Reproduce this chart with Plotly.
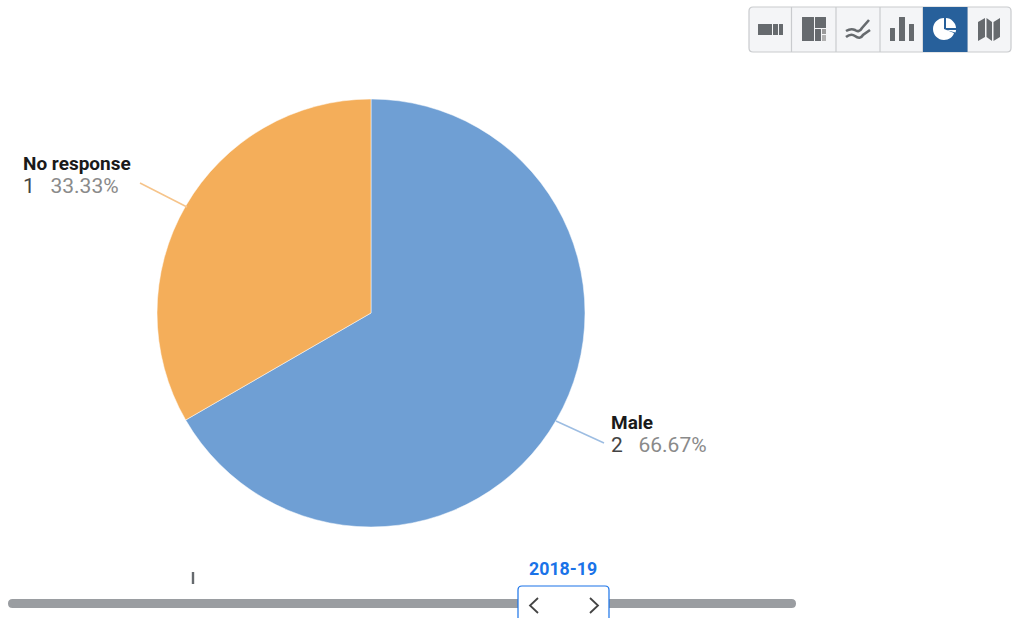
import plotly.graph_objects as go

categories = ["Male", "No response"]
values = [2, 1]
periods = ["I", "2018-19"]

W, H = 1013, 618
FONT = "Roboto"
COL_MALE, COL_NR = "#6f9fd4", "#f4ae5a"
GREY = "#666a6e"


def px(x):
    return x / W


def py(y):
    return 1 - y / H


def pt(x, y):
    return f"{px(x):.5f},{py(y):.5f}"


def path(*cmds):
    out = []
    for c in cmds:
        if c == "Z":
            out.append("Z")
        else:
            out.append(c[0] + " ".join(pt(*q) for q in c[1:]))
    return " ".join(out)


def rrect(x0, y0, x1, y1, r, bottom=True, top=True):
    rt = r if top else 0
    rb = r if bottom else 0
    return path(
        ("M", (x0 + rt, y0)), ("L", (x1 - rt, y0)), ("Q", (x1, y0), (x1, y0 + rt)),
        ("L", (x1, y1 - rb)), ("Q", (x1, y1), (x1 - rb, y1)),
        ("L", (x0 + rb, y1)), ("Q", (x0, y1), (x0, y1 - rb)),
        ("L", (x0, y0 + rt)), ("Q", (x0, y0), (x0 + rt, y0)), "Z",
    )


shapes = []


def fill(p, color, line=None, width=0):
    shapes.append(dict(type="path", xref="paper", yref="paper", path=p, fillcolor=color,
                       line=dict(color=line or color, width=width), layer="above"))


def stroke(p, color, width):
    shapes.append(dict(type="path", xref="paper", yref="paper", path=p,
                       line=dict(color=color, width=width), layer="above"))


def box(x0, y0, x1, y1, color=GREY):
    fill(rrect(x0, y0, x1, y1, 0.3), color)


total = sum(values)
fig = go.Figure(go.Pie(
    labels=categories, values=values, sort=False, direction="clockwise", rotation=0,
    textinfo="none", marker=dict(colors=[COL_MALE, COL_NR], line=dict(color="#ffffff", width=0.5)),
    domain=dict(x=[px(157), px(585)], y=[py(527), py(99)]), showlegend=False,
))

# leader lines
stroke(path(("M", (187, 207)), ("L", (140, 183))), "#f6c48a", 1.5)
stroke(path(("M", (556, 421)), ("L", (604, 443))), "#9dbde2", 1.5)

# slider
fill(rrect(8, 599, 796, 608, 4.5), "#9a9da1")
stroke(path(("M", (193, 572)), ("L", (193, 584))), GREY, 2.4)
fill(rrect(518, 586, 609, 622, 4, bottom=False), "#ffffff", "#1a73e8", 1.2)
stroke(path(("M", (538, 598)), ("L", (530, 605.5)), ("L", (538, 613))), "#444444", 1.8)
stroke(path(("M", (590, 598)), ("L", (598, 605.5)), ("L", (590, 613))), "#444444", 1.8)

# toolbar
fill(rrect(749, 7, 1011, 52, 4), "#f4f5f7", "#c9cbce", 1.2)
for x in [791.5, 836, 880, 923, 967]:
    stroke(path(("M", (x, 7)), ("L", (x, 52))), "#c9cbce", 1.2)
fill(path(("M", (923, 7)), ("L", (967.5, 7)), ("L", (967.5, 52)), ("L", (923, 52)), "Z"), "#27609b")

# icon 1: segmented bar
box(758, 24, 772, 35)
box(773, 24, 778, 35)
box(779, 24, 783, 35)
# icon 2: treemap
box(802, 17, 814, 41)
box(815, 17, 826, 28)
box(815, 29, 821, 41)
box(822, 29, 826, 34, "#9a9a9a")
box(822, 35, 826, 41, "#b0b0b0")
# icon 3: line chart
stroke(path(("M", (846, 31)), ("Q", (851, 28), (855, 30)), ("Q", (859, 33), (862, 28)), ("L", (869, 20))), GREY, 2.6)
stroke(path(("M", (846, 37)), ("Q", (851, 33), (855, 36)), ("Q", (860, 40), (863, 35)), ("L", (870, 30))), GREY, 2.6)
# icon 4: bars
box(890, 28, 895, 41)
box(899, 17, 905, 41)
box(909, 24, 914, 41)
# icon 5: pie
k = 0.5523
cx, cy, r = 945, 29, 11
fill(path(("M", (cx - 1, cy - r)),
          ("C", (cx - 1 - r * k, cy - r), (cx - r - 1, cy - r * k), (cx - r - 1, cy)),
          ("C", (cx - r - 1, cy + r * k), (cx - 1 - r * k, cy + r), (cx - 1, cy + r)),
          ("C", (cx + 4, cy + r), (cx + 8, cy + 8), (cx + 9, cy + 4)),
          ("L", (cx - 1, cy)), "Z"), "#ffffff")
fill(path(("M", (cx + 1, cy - r)), ("C", (cx + 6, cy - r), (cx + 11, cy - 6), (cx + 11, cy - 1)),
          ("L", (cx + 1, cy - 1)), "Z"), "#ffffff")
fill(path(("M", (cx + 1, cy + 1)), ("L", (cx + 11, cy + 1)), ("Q", (cx + 11, cy + 2), (cx + 10.5, cy + 3.5)), "Z"), "#ffffff")
# icon 6: map
fill(path(("M", (978, 22)), ("L", (985, 18)), ("L", (985, 37)), ("L", (978, 41)), "Z"), GREY)
fill(path(("M", (986.5, 18)), ("L", (992, 22)), ("L", (992, 41)), ("L", (986.5, 37)), "Z"), GREY)
fill(path(("M", (993.5, 22)), ("L", (1000, 18)), ("L", (1000, 37)), ("L", (993.5, 41)), "Z"), GREY)

annotations = []


def label(x, y, text, size, color, anchor="left"):
    annotations.append(dict(x=px(x), y=py(y), xref="paper", yref="paper", text=text,
                            showarrow=False, xanchor=anchor, yanchor="middle", align="left",
                            font=dict(family=FONT, size=size, color=color), borderpad=0, borderwidth=0))


pos = {"Male": (611, 434), "No response": (23, 175)}
NB = "\u00a0"
for c, v in zip(categories, values):
    x, y = pos[c]
    text = (f'<span style="font-size:19px;color:#1a1a1a"><b>{c}</b></span><br>'
            f'<span style="font-size:21px;color:#444444">{v}</span>'
            f'<span style="font-size:21px;color:#8a8a8a">{NB * 3}{v / total * 100:.2f}%</span>')
    label(x, y, text, 17.7, "#1a1a1a")

label(563, 568, f"<b>{periods[1]}</b>", 17.8, "#1a73e8", anchor="center")

fig.update_layout(width=W, height=H, margin=dict(l=0, r=0, t=0, b=0), paper_bgcolor="#ffffff",
                  shapes=shapes, annotations=annotations)
fig.write_html("out.html", config=dict(displayModeBar=False),
               post_script="document.body.style.margin='0';document.body.style.overflow='hidden';")
